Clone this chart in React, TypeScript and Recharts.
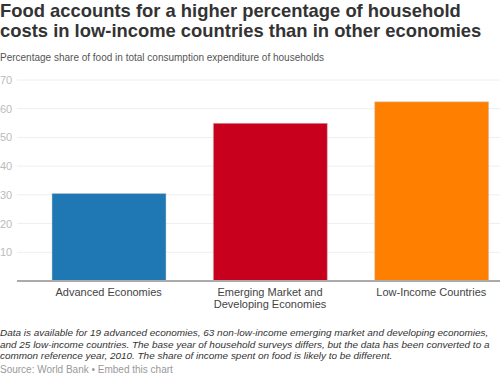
import React from "react";
import { BarChart, Bar, XAxis, YAxis, CartesianGrid, Cell } from "recharts";

const categories = ["Advanced Economies", "Emerging Market and Developing Economies", "Low-Income Countries"];
const tickLines = [["Advanced Economies"], ["Emerging Market and", "Developing Economies"], ["Low-Income Countries"]];
const foodShare = [30.5, 54.9, 62.4];
const barColors = ["#1f77b4", "#c8001e", "#ff7f00"];
const yTicks = [0, 10, 20, 30, 40, 50, 60, 70];

const data = categories.map((name, i) => ({ name, share: foodShare[i] }));

const font = "'Liberation Sans', Arial, sans-serif";

function YTick(props: any) {
  const { y, payload } = props;
  if (payload.value === 0) return null;
  return (
    <text x={0} y={y} dy={4} textAnchor="start" fontSize={11} fill="#bbb" fontFamily={font}>
      {payload.value}
    </text>
  );
}

function XTick(props: any) {
  const { x, y, index } = props;
  const lines = tickLines[index] || [];
  return (
    <text x={x} y={y + 7} textAnchor="middle" fontSize={11} fill="#444" fontFamily={font}>
      {lines.map((l: string, i: number) => (
        <tspan key={i} x={x} dy={i === 0 ? 0 : 12}>{l}</tspan>
      ))}
    </text>
  );
}

export default function App() {
  return (
    <div style={{ position: "absolute", left: 0, top: 0, width: 500, height: 382, overflow: "hidden", background: "#fff", fontFamily: font }}>
      <div style={{ position: "absolute", left: 0, top: 1, width: 500, fontSize: 18.4, fontWeight: "bold", lineHeight: "20px", color: "#333", whiteSpace: "nowrap" }}>
        Food accounts for a higher percentage of household
        <br />
        costs in low-income countries than in other economies
      </div>
      <div style={{ position: "absolute", left: 0, top: 52, fontSize: 10, color: "#555" }}>
        Percentage share of food in total consumption expenditure of households
      </div>
      <div style={{ position: "absolute", left: 0, top: 0 }}>
        <BarChart width={520} height={320} data={data} margin={{ top: 80, right: 8, left: 0, bottom: 9 }}>
          <CartesianGrid vertical={false} stroke="#eee" />
          <YAxis width={17} domain={[0, 70]} ticks={yTicks} axisLine={false} tickLine={false} tick={<YTick />} />
          <XAxis dataKey="name" height={30} padding={{ left: 11, right: 0 }} axisLine={{ stroke: "#aaa", strokeWidth: 2 }} tickLine={false} tick={<XTick />} interval={0} />
          <Bar dataKey="share" barSize={114} isAnimationActive={false} stroke="#ccc" strokeWidth={0.5}>
            {data.map((d, i) => (
              <Cell key={d.name} fill={barColors[i]} />
            ))}
          </Bar>
        </BarChart>
      </div>
      <div style={{ position: "absolute", left: 0, top: 327, width: 500, fontSize: 9.95, fontStyle: "italic", lineHeight: "11.7px", color: "#333", whiteSpace: "nowrap" }}>
        Data is available for 19 advanced economies, 63 non-low-income emerging market and developing economies,
        <br />
        and 25 low-income countries. The base year of household surveys differs, but the data has been converted to a
        <br />
        common reference year, 2010. The share of income spent on food is likely to be different.
      </div>
      <div style={{ position: "absolute", left: 0, top: 364, fontSize: 10, color: "#999" }}>
        Source: World Bank • Embed this chart
      </div>
    </div>
  );
}
